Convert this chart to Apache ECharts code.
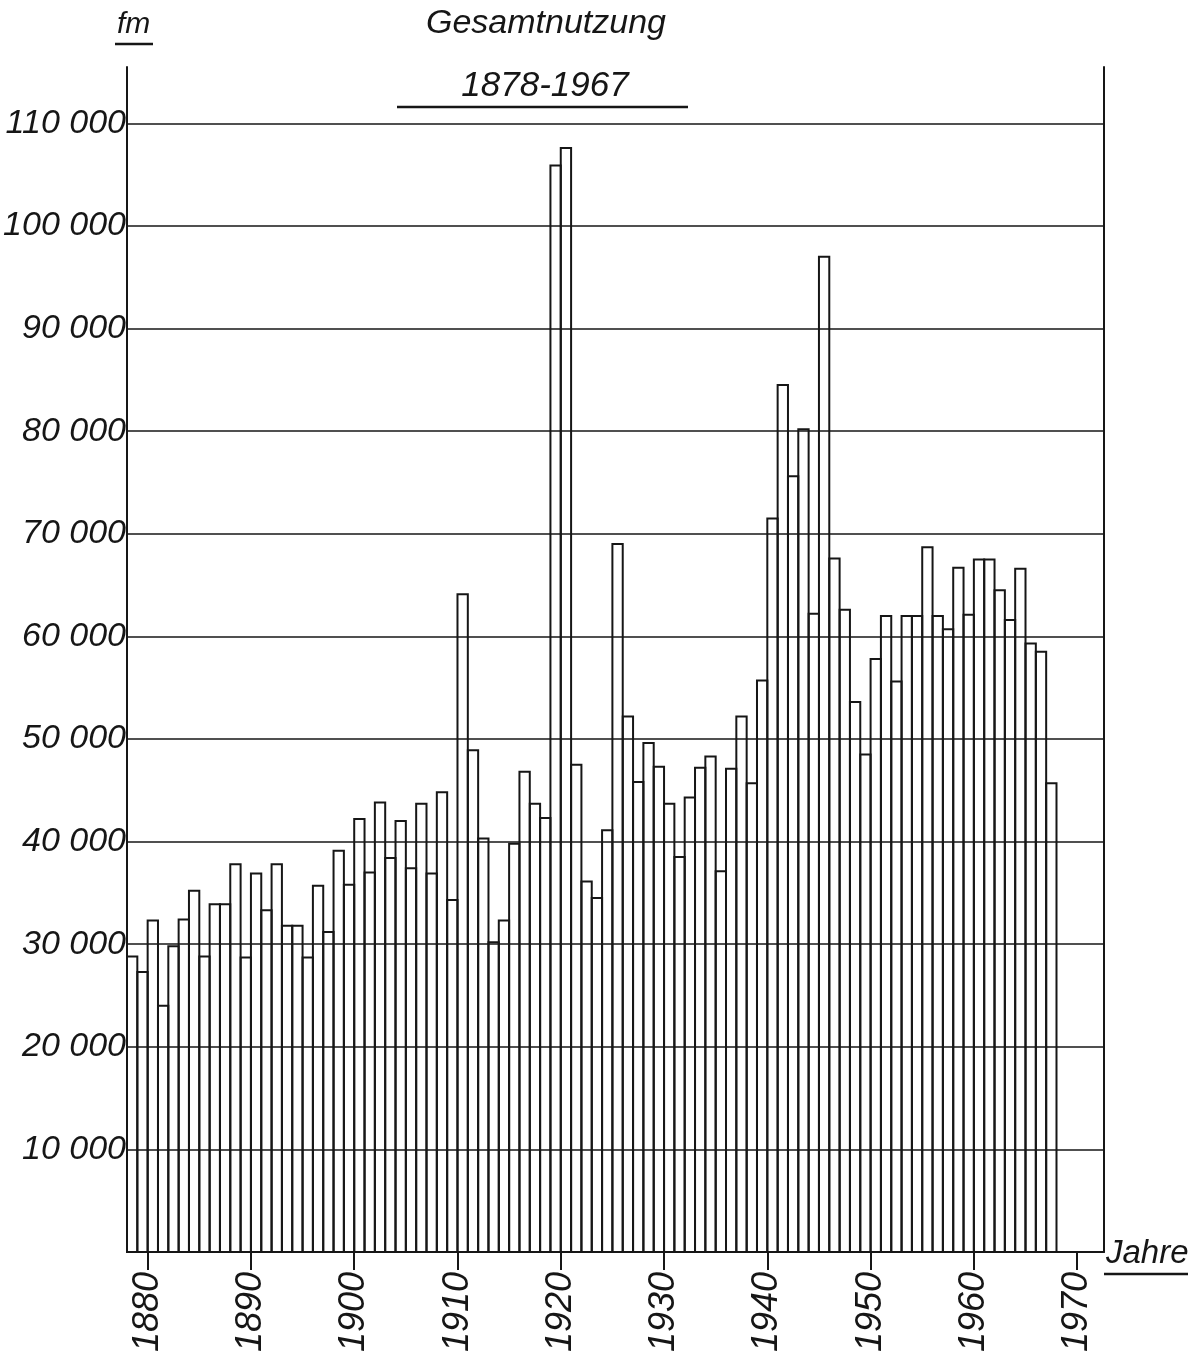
<!DOCTYPE html>
<html>
<head>
<meta charset="utf-8">
<title>Gesamtnutzung 1878-1967</title>
<script src="https://cdn.jsdelivr.net/npm/echarts@6/dist/echarts.min.js"></script>
<style>
  html, body { margin: 0; padding: 0; background: #fff; }
  #chart { width: 1192px; height: 1364px; }
</style>
</head>
<body>
<div id="chart"></div>
<script>
// Jahre 1878-1967
var jahre = [
  1878, 1879, 1880, 1881, 1882, 1883, 1884, 1885, 1886, 1887,
  1888, 1889, 1890, 1891, 1892, 1893, 1894, 1895, 1896, 1897,
  1898, 1899, 1900, 1901, 1902, 1903, 1904, 1905, 1906, 1907,
  1908, 1909, 1910, 1911, 1912, 1913, 1914, 1915, 1916, 1917,
  1918, 1919, 1920, 1921, 1922, 1923, 1924, 1925, 1926, 1927,
  1928, 1929, 1930, 1931, 1932, 1933, 1934, 1935, 1936, 1937,
  1938, 1939, 1940, 1941, 1942, 1943, 1944, 1945, 1946, 1947,
  1948, 1949, 1950, 1951, 1952, 1953, 1954, 1955, 1956, 1957,
  1958, 1959, 1960, 1961, 1962, 1963, 1964, 1965, 1966, 1967
];
// Gesamtnutzung in fm
var nutzung = [
  28800, 27300, 32300, 24000, 29800, 32400, 35200, 28800, 33900, 33900,
  37800, 28700, 36900, 33300, 37800, 31800, 31800, 28700, 35700, 31200,
  39100, 35800, 42200, 37000, 43800, 38400, 42000, 37400, 43700, 36900,
  44800, 34300, 64100, 48900, 40300, 30200, 32300, 39800, 46800, 43700,
  42300, 105900, 107600, 47500, 36100, 34500, 41100, 69000, 52200, 45800,
  49600, 47300, 43700, 38500, 44300, 47200, 48300, 37100, 47100, 52200,
  45700, 55700, 71500, 84500, 75600, 80200, 62200, 97000, 67600, 62600,
  53600, 48500, 57800, 62000, 55600, 62000, 62000, 68700, 62000, 60700,
  66700, 62100, 67500, 67500, 64500, 61600, 66600, 59300, 58500, 45700
];
var dekaden = [1880, 1890, 1900, 1910, 1920, 1930, 1940, 1950, 1960, 1970];

var schrift = '"Liberation Sans", Arial, sans-serif';
var ink = '#161616';

var myChart = echarts.init(document.getElementById('chart'));

var option = {
  backgroundColor: '#ffffff',
  animation: false,
  title: [
    {
      text: 'Gesamtnutzung',
      left: 541, top: 2, textAlign: 'center',
      textStyle: { fontFamily: schrift, fontStyle: 'italic', fontWeight: 'normal', fontSize: 34, color: ink }
    },
    {
      text: '1878-1967',
      left: 540, top: 64, textAlign: 'center',
      textStyle: { fontFamily: schrift, fontStyle: 'italic', fontWeight: 'normal', fontSize: 35, color: ink }
    }
  ],
  grid: { left: 127, right: 88, top: 67, bottom: 112, outerBoundsMode: 'none', containLabel: false },
  xAxis: {
    type: 'value',
    min: 1878,
    max: 1972.6,
    axisLine: { show: true, lineStyle: { color: ink, width: 2 } },
    axisTick: { show: true, customValues: dekaden, length: 18, lineStyle: { color: ink, width: 2 } },
    axisLabel: {
      customValues: dekaden, rotate: 90, margin: 20,
      fontFamily: schrift, fontStyle: 'italic', fontSize: 36, color: ink,
      formatter: function (v) { return String(v); }
    },
    splitLine: { show: false }
  },
  yAxis: [
    {
      type: 'value',
      min: 0,
      max: 115500,
      interval: 10000,
      axisLine: { show: true, lineStyle: { color: ink, width: 2 } },
      axisTick: { show: false },
      axisLabel: {
        margin: 1,
        fontFamily: schrift, fontStyle: 'italic', fontSize: 34, color: ink,
        formatter: function (v) {
          if (v === 0 || v % 10000 !== 0) return '';
          var s = String(v);
          return s.slice(0, -3) + ' ' + s.slice(-3);
        }
      },
      splitLine: { show: true, showMinLine: false, showMaxLine: false, lineStyle: { color: ink, width: 1.6 } }
    },
    {
      type: 'value',
      position: 'right',
      min: 0,
      max: 115500,
      interval: 10000,
      axisLine: { show: true, lineStyle: { color: ink, width: 2 } },
      axisTick: { show: false },
      axisLabel: { show: false },
      splitLine: { show: false }
    }
  ],
  series: [
    {
      // Saeulen: jedes Jahr von j bis j+1
      name: 'Gesamtnutzung',
      type: 'custom',
      silent: true,
      encode: { x: [0, 1], y: 2 },
      renderItem: function (params, api) {
        var oben = api.coord([api.value(0), api.value(2)]);
        var unten = api.coord([api.value(1), 0]);
        return {
          type: 'rect',
          shape: { x: oben[0], y: oben[1], width: unten[0] - oben[0], height: unten[1] - oben[1] },
          style: { fill: 'none', stroke: ink, lineWidth: 2 }
        };
      },
      data: jahre.map(function (j, i) { return [j, j + 1, nutzung[i]]; })
    }
  ],
  graphic: [
    { type: 'text', left: 117, top: 10, style: { text: 'fm', font: 'italic 30px ' + schrift, fill: ink } },
    { type: 'line', shape: { x1: 115, y1: 44, x2: 153, y2: 44 }, style: { stroke: ink, lineWidth: 2.5 } },
    { type: 'line', shape: { x1: 397, y1: 107, x2: 688, y2: 107 }, style: { stroke: ink, lineWidth: 2.5 } },
    { type: 'text', left: 1106, top: 1237, style: { text: 'Jahre', font: 'italic 33px ' + schrift, fill: ink } },
    { type: 'line', shape: { x1: 1104, y1: 1274, x2: 1188, y2: 1274 }, style: { stroke: ink, lineWidth: 2.5 } }
  ]
};

myChart.setOption(option);
window.addEventListener('resize', function () {
  myChart.resize();
});
</script>
</body>
</html>
